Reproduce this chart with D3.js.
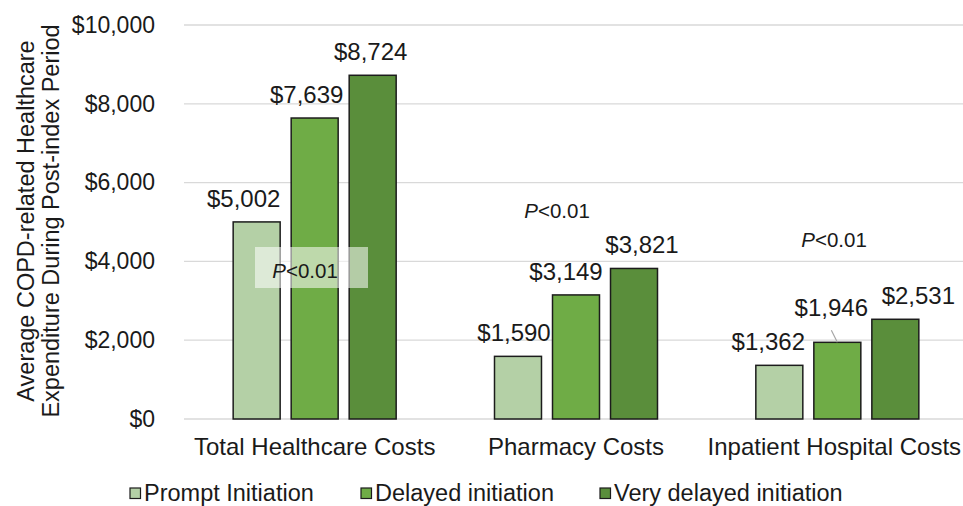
<!DOCTYPE html>
<html>
<head>
<meta charset="utf-8">
<script src="https://cdn.jsdelivr.net/npm/d3@7"></script>
<style>
  body { margin: 0; background: #fff; }
  svg { display: block; font-family: "Liberation Sans", Arial, sans-serif; }
</style>
</head>
<body>
<div id="chart"></div>
<script>
// data
var categories = ["Total Healthcare Costs", "Pharmacy Costs", "Inpatient Hospital Costs"];
var seriesNames = ["Prompt Initiation", "Delayed initiation", "Very delayed initiation"];
var prompt = [5002, 1590, 1362];
var delayed = [7639, 3149, 1946];
var veryDelayed = [8724, 3821, 2531];
var pLabels = ["P<0.01", "P<0.01", "P<0.01"];
var yTicks = [0, 2000, 4000, 6000, 8000, 10000];

var colors = ["#b4d0a6", "#6fac46", "#5a8e3b"];

var W = 963, H = 506;
var margin = {top: 25, right: -5, bottom: 87, left: 184};

var svg = d3.select("#chart").append("svg")
    .attr("width", W)
    .attr("height", H);

var y = d3.scaleLinear().domain([0, 10000]).range([H - margin.bottom, margin.top]);
var x0 = d3.scaleBand().domain(categories).range([margin.left, W - margin.right]).padding(0);
var inner = 163;
var x1 = d3.scaleBand().domain(seriesNames)
    .range([(x0.bandwidth() - inner) / 2, (x0.bandwidth() + inner) / 2])
    .paddingInner(0.19);

// gridlines
svg.append("g").selectAll("line")
    .data(yTicks)
    .enter().append("line")
    .attr("x1", margin.left)
    .attr("x2", W)
    .attr("y1", function(d) { return y(d); })
    .attr("y2", function(d) { return y(d); })
    .attr("stroke", "#d9d9d9")
    .attr("stroke-width", 1.3);

// y axis labels
var yAxis = d3.axisLeft(y).tickValues(yTicks).tickSize(0).tickPadding(0)
    .tickFormat(function(d) { return "$" + d3.format(",")(d); });
var ya = svg.append("g").attr("transform", "translate(155,0)").call(yAxis);
ya.select(".domain").remove();
ya.selectAll("text").attr("font-size", 23).attr("fill", "#1a1a1a")
    .attr("font-family", "Liberation Sans, Arial, sans-serif");

// y title
var yt = svg.append("text")
    .attr("transform", "translate(40,221) rotate(-90)")
    .attr("text-anchor", "middle")
    .attr("font-size", 23.5)
    .attr("fill", "#1a1a1a");
yt.append("tspan").attr("x", 0).attr("dy", -6).text("Average COPD-related Healthcare");
yt.append("tspan").attr("x", 0).attr("dy", 25).text("Expenditure During Post-index Period");

// bars
var rows = categories.map(function(c, i) {
    return {cat: c, vals: [prompt[i], delayed[i], veryDelayed[i]]};
});
var groups = svg.append("g").selectAll("g")
    .data(rows)
    .enter().append("g")
    .attr("transform", function(d) { return "translate(" + x0(d.cat) + ",0)"; });

groups.selectAll("rect")
    .data(function(d) { return d.vals.map(function(v, j) { return {s: seriesNames[j], v: v, j: j}; }); })
    .enter().append("rect")
    .attr("x", function(d) { return x1(d.s); })
    .attr("y", function(d) { return y(d.v); })
    .attr("width", x1.bandwidth())
    .attr("height", function(d) { return y(0) - y(d.v); })
    .attr("fill", function(d) { return colors[d.j]; })
    .attr("stroke", "#1c1c1c")
    .attr("stroke-width", 1.5);

// value label nudges (layout only)
var nudgeX = [[-13, -8, -2], [-4, -10, 8], [-11, -6, 23]];
var nudgeY = [[-15, -15, -15], [-15, -15, -15], [-15, -26, -15]];

groups.each(function(d, i) {
    var g = d3.select(this);
    d.vals.forEach(function(v, j) {
        var cx = x1(seriesNames[j]) + x1.bandwidth() / 2;
        g.append("text")
            .attr("x", cx + nudgeX[i][j])
            .attr("y", y(v) + nudgeY[i][j])
            .attr("text-anchor", "middle")
            .attr("font-size", 24)
            .attr("fill", "#1a1a1a")
            .text("$" + d3.format(",")(v));
        if (nudgeY[i][j] < -20) {
            g.append("line")
                .attr("x1", cx - 6).attr("y1", y(v) - 12)
                .attr("x2", cx).attr("y2", y(v))
                .attr("stroke", "#a6a6a6").attr("stroke-width", 1.2);
        }
    });
});

// P value labels
var pPos = [[305, 278], [557, 218], [834, 247]];
pLabels.forEach(function(p, i) {
    if (i === 0) {
        svg.append("rect")
            .attr("x", 255).attr("y", 247)
            .attr("width", 113).attr("height", 41)
            .attr("fill", "#ffffff").attr("fill-opacity", 0.55);
    }
    var t = svg.append("text")
        .attr("x", pPos[i][0]).attr("y", pPos[i][1])
        .attr("text-anchor", "middle")
        .attr("font-size", 20.5)
        .attr("fill", "#1a1a1a");
    t.append("tspan").attr("font-style", "italic").text(p.charAt(0));
    t.append("tspan").text(p.slice(1));
});

// x axis labels
var xa = svg.append("g").attr("transform", "translate(0," + y(0) + ")")
    .call(d3.axisBottom(x0).tickSize(0).tickPadding(19));
xa.select(".domain").remove();
xa.selectAll("text").attr("font-size", 24).attr("fill", "#1a1a1a")
    .attr("font-family", "Liberation Sans, Arial, sans-serif");
xa.selectAll(".tick").filter(function(d, i) { return i === 2; })
    .select("text").attr("dx", -3);

// legend
var legX = [130, 361, 600];
var leg = svg.append("g").selectAll("g")
    .data(seriesNames)
    .enter().append("g")
    .attr("transform", function(d, i) { return "translate(" + legX[i] + ",488)"; });
leg.append("rect")
    .attr("width", 10.5).attr("height", 10.5)
    .attr("fill", function(d, i) { return colors[i]; })
    .attr("stroke", "#1c1c1c").attr("stroke-width", 1.2);
leg.append("text")
    .attr("x", 14).attr("y", 13)
    .attr("font-size", 23.5)
    .attr("fill", "#1a1a1a")
    .text(function(d) { return d; });
</script>
</body>
</html>
